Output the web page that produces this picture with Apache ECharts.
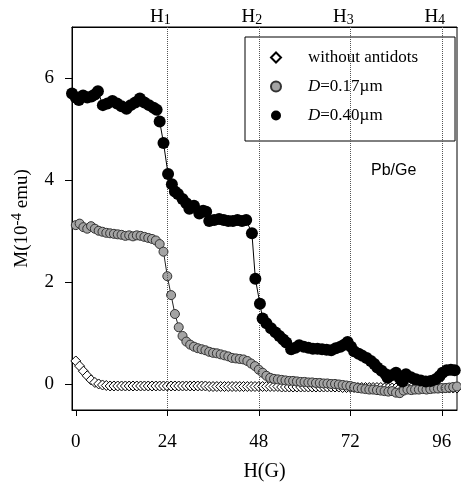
<!DOCTYPE html>
<html>
<head>
<meta charset="utf-8">
<title>M(H) Pb/Ge</title>
<style>
body{margin:0;padding:0;background:#fff;}
#main{width:461px;height:487px;}
</style>
</head>
<body>
<div id="main"></div>
<script src="https://cdn.jsdelivr.net/npm/echarts@6/dist/echarts.min.js"></script>
<script>
// field values shared by the two dense series (G)
var fieldG = [0,1,2,3,4,5,6,7,8,9,10,11,12,13,14,15,16,17,18,19,20,21,22,23,24,25,26,27,28,29,30,31,32,33,34,35,36,37,38,39,40,41,42,43,44,45,46,47,48,49,50,51,52,53,54,55,56,57,58,59,60,61,62,63,64,65,66,67,68,69,70,71,72,73,74,75,76,77,78,79,80,81,82,83,84,85,86,87,88,89,90,91,92,93,94,95,96,97,98,99,100];
// without antidots
var mPlain = [0.46,0.36,0.26,0.17,0.09,0.04,0.01,-0.01,-0.02,-0.03,-0.03,-0.03,-0.03,-0.03,-0.03,-0.03,-0.03,-0.03,-0.03,-0.03,-0.03,-0.03,-0.03,-0.03,-0.03,-0.03,-0.03,-0.03,-0.03,-0.03,-0.03,-0.03,-0.03,-0.03,-0.03,-0.04,-0.04,-0.04,-0.04,-0.04,-0.04,-0.04,-0.04,-0.04,-0.04,-0.04,-0.04,-0.04,-0.04,-0.04,-0.04,-0.04,-0.04,-0.04,-0.05,-0.05,-0.05,-0.05,-0.05,-0.05,-0.05,-0.05,-0.05,-0.05,-0.05,-0.05,-0.05,-0.05,-0.05,-0.05,-0.06,-0.06,-0.06,-0.06,-0.06,-0.06,-0.06,-0.06,-0.06,-0.06,-0.06,-0.07,-0.07,-0.07,-0.07,-0.07,-0.07,-0.07,-0.07,-0.07,-0.07,-0.07,-0.07,-0.07,-0.07,-0.07,-0.07,-0.07,-0.07,-0.07,-0.07];
// D=0.17um
var mSmall = [3.12,3.15,3.08,3.05,3.10,3.05,3.01,2.99,2.97,2.96,2.95,2.94,2.93,2.91,2.92,2.90,2.92,2.91,2.89,2.87,2.85,2.82,2.75,2.60,2.12,1.75,1.38,1.12,0.95,0.84,0.78,0.74,0.71,0.69,0.67,0.64,0.62,0.61,0.59,0.57,0.55,0.52,0.51,0.50,0.49,0.46,0.41,0.36,0.29,0.23,0.17,0.13,0.11,0.10,0.09,0.08,0.07,0.07,0.06,0.05,0.05,0.04,0.04,0.03,0.03,0.02,0.02,0.01,0.01,0.00,-0.01,-0.02,-0.03,-0.05,-0.07,-0.08,-0.09,-0.10,-0.10,-0.11,-0.12,-0.13,-0.14,-0.13,-0.16,-0.17,-0.12,-0.10,-0.11,-0.10,-0.10,-0.09,-0.10,-0.09,-0.08,-0.08,-0.07,-0.07,-0.06,-0.05,-0.04];
// D=0.40um, [H, M]
var mLarge = [[-1,5.70],[0,5.62],[0.8,5.57],[1.9,5.66],[3,5.62],[4.1,5.64],[5,5.68],[5.8,5.74],[7.1,5.47],[8.3,5.50],[9.6,5.55],[10.8,5.50],[12,5.45],[13.3,5.40],[14.4,5.47],[15.6,5.52],[16.8,5.60],[18,5.52],[19.2,5.47],[20.4,5.42],[21.2,5.38],[22,5.15],[23,4.73],[24.2,4.12],[25.2,3.92],[26,3.78],[26.8,3.73],[28,3.63],[29,3.55],[29.8,3.44],[31,3.50],[32.4,3.35],[33.4,3.40],[34.2,3.38],[35,3.20],[36.3,3.22],[37.6,3.24],[38.8,3.22],[40,3.20],[41.2,3.20],[42.4,3.22],[43.6,3.20],[44.7,3.22],[46.2,2.96],[47.1,2.07],[48.3,1.58],[49,1.29],[50,1.20],[51.2,1.10],[52.4,1.02],[53.4,0.95],[54.4,0.88],[55.2,0.82],[56.5,0.69],[57.6,0.72],[58.6,0.77],[59.8,0.74],[61,0.72],[62.2,0.70],[63.4,0.70],[64.6,0.69],[65.8,0.68],[67,0.67],[68.2,0.71],[69.4,0.74],[70.4,0.78],[71.3,0.83],[72.2,0.74],[73,0.65],[74.2,0.60],[75.2,0.56],[76.3,0.52],[77.4,0.46],[78.3,0.40],[79.1,0.33],[80.2,0.27],[81.3,0.20],[81.8,0.13],[82.8,0.18],[84,0.23],[85,0.12],[85.7,0.06],[86.6,0.20],[87.9,0.14],[89.2,0.10],[90.5,0.08],[91.8,0.06],[93.1,0.07],[94.4,0.10],[95.4,0.16],[96.2,0.23],[97.3,0.28],[98.4,0.29],[99.4,0.28],[100.3,0.26]];

var xTicks = [0,24,48,72,96];
var yTicks = [0,2,4,6];
var hMarks = [24,48,72,96];
var hNames = ['1','2','3','4'];
var names = ['without antidots','D=0.17\u00b5m','D=0.40\u00b5m'];

var serif = '"Liberation Serif", "Times New Roman", serif';
var myChart = echarts.init(document.getElementById('main'));

var smallPts = [], plainPts = [];
for (var i = 0; i < fieldG.length; i++) {
  plainPts.push([fieldG[i], mPlain[i]]);
  smallPts.push([fieldG[i], mSmall[i]]);
}

var option = {
  animation: false,
  backgroundColor: '#fff',
  title: {
    text: 'Pb/Ge',
    left: 366, top: 158,
    textStyle: {fontFamily: '"Liberation Sans", Arial, sans-serif', fontSize: 16, fontWeight: 'normal', color: '#000'}
  },
  grid: {left: 72, right: 4, top: 27, bottom: 77, show: true, borderColor: '#000', borderWidth: 1},
  legend: {
    orient: 'vertical',
    left: 245, top: 37,
    padding: [12, 37, 17, 25],
    itemGap: 12,
    itemWidth: 10, itemHeight: 10,
    borderColor: '#000', borderWidth: 1,
    data: [
      {name: names[0], icon: 'diamond'},
      {name: names[1], icon: 'circle'},
      {name: names[2], icon: 'circle'}
    ],
    formatter: function (n) {
      if (n.charAt(0) === 'D') return '{i|D}{t|' + n.slice(1) + '}';
      return '{t|' + n + '}';
    },
    textStyle: {
      fontFamily: serif, fontSize: 17, color: '#000', padding: [0, 0, 0, 22],
      rich: {
        i: {fontFamily: serif, fontSize: 17, fontStyle: 'italic', color: '#000'},
        t: {fontFamily: serif, fontSize: 17, color: '#000'}
      }
    }
  },
  xAxis: [{
    type: 'value', min: -1, max: 100,
    name: 'H(G)', nameLocation: 'middle', nameGap: 52,
    nameTextStyle: {fontFamily: serif, fontSize: 20, color: '#000'},
    axisLine: {onZero: false, lineStyle: {color: '#000', width: 1}},
    axisTick: {show: true, length: 6, customValues: xTicks, lineStyle: {color: '#000'}},
    axisLabel: {customValues: xTicks, margin: 23, fontFamily: serif, fontSize: 19, color: '#000'},
    splitLine: {show: false}
  }, {
    type: 'value', min: -1, max: 100, position: 'top',
    axisLine: {show: true, onZero: false, lineStyle: {color: '#000', width: 1}},
    axisTick: {show: false},
    axisLabel: {
      customValues: hMarks, margin: -5, padding: [0, 14, 0, 0],
      formatter: function (v) { return '{h|H}{s|' + hNames[hMarks.indexOf(v)] + '}'; },
      rich: {
        h: {fontFamily: serif, fontSize: 19, color: '#000', padding: [0, 0, 5, 0]},
        s: {fontFamily: serif, fontSize: 14, color: '#000'}
      }
    },
    splitLine: {show: false}
  }],
  yAxis: {
    type: 'value', min: -0.5, max: 7,
    name: '{a|M(10}{p|-4}{a| emu)}', nameLocation: 'middle', nameGap: 38,
    nameTextStyle: {
      rich: {
        a: {fontFamily: serif, fontSize: 19, color: '#000'},
        p: {fontFamily: serif, fontSize: 15, color: '#000', padding: [0, 0, 9, 0]}
      }
    },
    axisLine: {show: true, onZero: false, lineStyle: {color: '#000', width: 1}},
    axisTick: {show: true, length: 7, customValues: yTicks, lineStyle: {color: '#000'}},
    axisLabel: {customValues: yTicks, margin: 18, fontFamily: serif, fontSize: 19, color: '#000'},
    splitLine: {show: false}
  },
  series: [{
    name: names[0], type: 'scatter', data: plainPts,
    symbol: 'diamond', symbolSize: 10,
    itemStyle: {color: '#fff', borderColor: '#000', borderWidth: 1, opacity: 1},
    z: 3
  }, {
    name: names[1], type: 'line', data: smallPts,
    symbol: 'circle', symbolSize: 9, showAllSymbol: true,
    lineStyle: {color: '#222', width: 1},
    itemStyle: {color: '#a4a4a4', borderColor: '#333', borderWidth: 1},
    z: 4
  }, {
    name: names[2], type: 'line', data: mLarge,
    symbol: 'circle', symbolSize: 12, showAllSymbol: true,
    lineStyle: {color: '#000', width: 1},
    itemStyle: {color: '#000', borderColor: '#000', borderWidth: 0},
    z: 5,
    markLine: {
      silent: true, symbol: ['none', 'none'], label: {show: false},
      lineStyle: {type: 'dotted', color: '#555', width: 1},
      data: hMarks.map(function (v) { return {xAxis: v}; })
    }
  }]
};
myChart.setOption(option);
</script>
</body>
</html>
